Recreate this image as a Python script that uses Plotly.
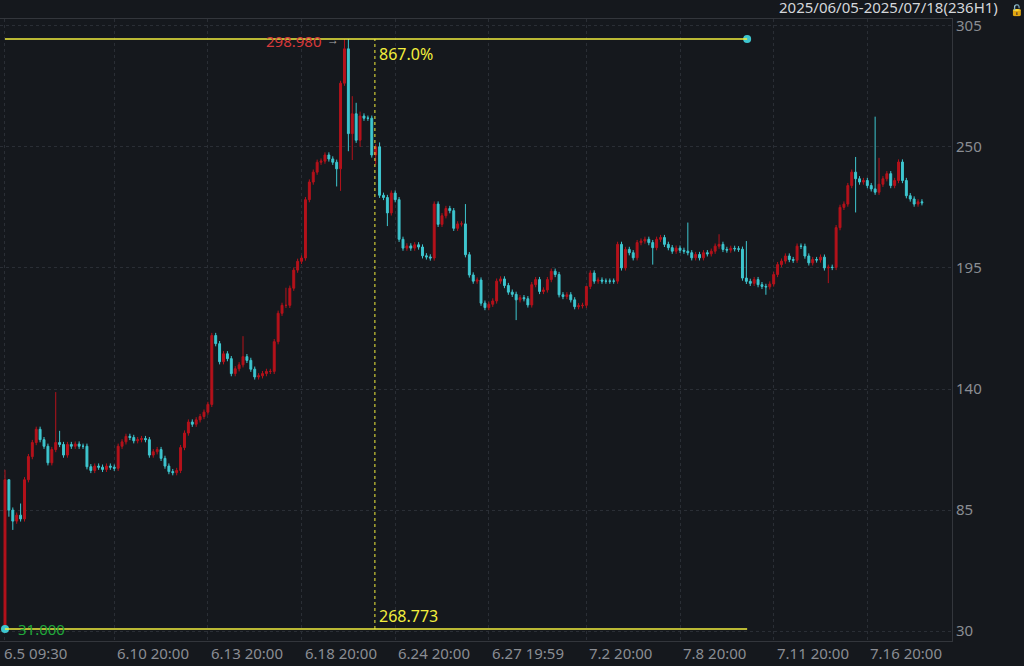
import plotly.graph_objects as go

# hourly closes, 2025/06/05 - 2025/07/18 (236 bars)
first_open = 31.0
closes = [
    98.8, 85, 80, 82.7, 81, 98.8, 109.3, 115.7, 121.7, 117,
    114, 106.5, 112.5, 115.7, 114.8, 110, 114.8, 114, 115, 114,
    114, 104.7, 103, 105, 104.5, 103.5, 105, 104.5, 104, 114,
    116, 118.5, 118, 116.5, 117, 117.5, 117, 110, 111.5, 112.5,
    108.5, 105, 102.5, 102, 103, 113.4, 120, 125, 124, 126,
    127.5, 129.5, 133, 164.3,
    160.6, 152.4, 156, 153.8, 147, 149.2, 151, 154.7, 153, 149,
    145.5, 146, 147, 148, 148, 161.5, 174.4, 178, 178, 185.8,
    194, 198, 199.5, 226, 234, 238.5, 243, 243.5, 246.3, 244.5, 243,
    240, 278.9, 294.5, 256, 265, 253, 264, 263, 263, 246.3,
    250, 228, 227, 220, 229, 226, 208, 204, 205, 204,
    205.5, 204.5, 200.5, 200, 199.5, 224, 214.8, 218.7, 222, 221, 213,
    215, 215, 201, 191.8, 189, 189.5, 179, 177, 178.5, 180,
    189, 190, 187, 184,
    183, 180.5, 181.5, 181, 178.2, 187.4, 189.7, 184.3, 185, 189.7,
    193.5, 192, 182.8, 182, 182.8, 180.5, 177.4, 177.8, 178, 186.6,
    192.7, 189, 189.5, 189, 189, 189, 189, 205.7, 195, 203.4,
    201.9, 199.6, 206.5, 207.2, 208, 206.5, 204.2, 208, 208.8, 205.7,
    204.2, 202.6, 204, 203, 202.6, 201.9, 199.6, 201.1, 199.6, 201.9,
    201.4, 202.6, 204.9, 205.7, 203.4, 203.1, 203.9, 203.7, 203.5, 190.4,
    188.9, 188, 189.7, 187.4, 186.6, 186.4, 187.7, 192, 196.5, 198.1,
    200.4, 198.8, 198.5, 204.9, 204.8, 200.4, 197.3, 198.8, 198.6, 199.9,
    195, 195.3, 195.2, 213.3, 222.5, 224, 232.4, 238.5, 235.5, 234,
    234.7, 232.4, 230.9, 229.4, 233, 235.5, 237.8, 232.4, 234.7, 243.1,
    234.7, 227.8, 226.3, 224, 225, 224.6,
]
# notable wicks (bar index -> value)
high_wicks = {0: 103.3, 1: 96.5, 4: 88, 13: 138.6, 14: 121, 61: 164, 72: 186,
              86: 280, 87: 298.98, 88: 298.98, 89: 273, 90: 270, 91: 266,
              96: 252, 118: 224, 149: 182, 175: 215.6, 183: 210.3, 190: 207.2,
              218: 245.4, 223: 263.7, 224: 245}
low_wicks = {0: 31, 1: 82, 2: 76, 85: 232, 86: 230, 88: 248, 89: 244, 91: 250,
             95: 242, 98: 214, 131: 171.3, 166: 196.5, 195: 182.8, 211: 188.1,
             218: 220.2}

x_ticks = [0, 28, 52, 76, 100, 124, 149, 173, 197, 221]
x_labels = ['6.5 09:30', '6.10 20:00', '6.13 20:00', '6.18 20:00', '6.24 20:00',
            '6.27 19:59', '7.2 20:00', '7.8 20:00', '7.11 20:00', '7.16 20:00']
y_ticks = [30, 85, 140, 195, 250, 305]

high_price, low_price = 298.98, 31.0

opens = [first_open] + closes[:-1]
idx = list(range(len(closes)))
highs = [high_wicks.get(i, max(o, c) + 1.2) for i, o, c in zip(idx, opens, closes)]
lows = [low_wicks.get(i, min(o, c) - 1.2) for i, o, c in zip(idx, opens, closes)]

bg = '#15181d'
grid = '#2a2e35'
yellow = '#f2ee3c'
label_font = dict(color='#8a8d93', size=15, family='Noto Sans, sans-serif')

fig = go.Figure(go.Candlestick(
    x=idx, open=opens, high=highs, low=lows, close=closes,
    increasing=dict(line=dict(color='#b5121b', width=1), fillcolor='#b5121b'),
    decreasing=dict(line=dict(color='#3ec6cf', width=1), fillcolor='#3ec6cf'),
    whiskerwidth=0, hoverinfo='skip'))

# measuring tool: high/low lines and vertical marker
fig.add_shape(type='line', x0=0, x1=190.2, y0=high_price, y1=high_price,
              line=dict(color=yellow, width=1.5))
fig.add_shape(type='line', x0=0, x1=190.2, y0=low_price, y1=low_price,
              line=dict(color=yellow, width=1.5))
fig.add_shape(type='line', x0=94.8, x1=94.8, y0=low_price, y1=high_price,
              line=dict(color=yellow, width=1, dash='dot'))
fig.add_trace(go.Scatter(x=[190.2, 0], y=[high_price, low_price], mode='markers',
                         marker=dict(color='#3ec6cf', size=8), hoverinfo='skip'))

fig.add_annotation(x=81.8, y=high_price, text='298.980', showarrow=False, xanchor='right',
                   yanchor='middle', yshift=-2, font=dict(color='#d7393a', size=15))
fig.add_annotation(x=84, y=high_price, text='→', showarrow=False, xanchor='center',
                   yanchor='middle', yshift=-1, font=dict(color='#aaaaaa', size=12))
fig.add_annotation(x=95.4, y=high_price, text='867.0%', showarrow=False, xanchor='left',
                   yanchor='top', yshift=-2, font=dict(color=yellow, size=16))
fig.add_annotation(x=95.4, y=low_price, text='268.773', showarrow=False, xanchor='left',
                   yanchor='bottom', font=dict(color=yellow, size=16))
fig.add_annotation(x=2.8, y=low_price, text='31.000', showarrow=False, xanchor='left',
                   yanchor='middle', font=dict(color='#20a83a', size=15))

for t, lab in zip(x_ticks, x_labels):
    fig.add_annotation(x=t, y=0, yref='paper', text=lab, showarrow=False,
                       xanchor='left', yanchor='top', xshift=1 if t else -3, yshift=0,
                       font=label_font)

fig.add_annotation(x=1, y=1, xref='paper', yref='paper', xanchor='right', yanchor='bottom',
                   xshift=48, yshift=0, text='2025/06/05-2025/07/18(236H1)', showarrow=False,
                   font=dict(color='#d4d6da', size=15, family='Noto Sans, sans-serif'))
fig.add_annotation(x=1, y=1, xref='paper', yref='paper', xanchor='left', yanchor='bottom',
                   xshift=56, yshift=0, text='🔓', showarrow=False,
                   font=dict(color='#e8a020', size=11))

fig.update_layout(
    width=1024, height=666, paper_bgcolor=bg, plot_bgcolor=bg,
    margin=dict(l=0, r=72, t=19, b=25, autoexpand=False), showlegend=False,
    font=dict(family='Noto Sans, sans-serif'),
    xaxis=dict(range=[-1.28, 242.7], tickvals=x_ticks, showticklabels=False,
               showgrid=True, gridcolor=grid, griddash='dot', zeroline=False,
               rangeslider=dict(visible=False), showline=True, linecolor='#33363c', mirror=True),
    yaxis=dict(range=[25.55, 308.06], side='right', tickvals=y_ticks,
               tickfont=label_font, showgrid=True, gridcolor=grid,
               griddash='dot', zeroline=False, ticks='', showline=True, linecolor='#33363c',
               mirror=True),
)

fig.write_html('out.html', config={'displayModeBar': False},
               post_script="document.body.style.margin='0';"
               "document.body.style.background='#15181d';")
